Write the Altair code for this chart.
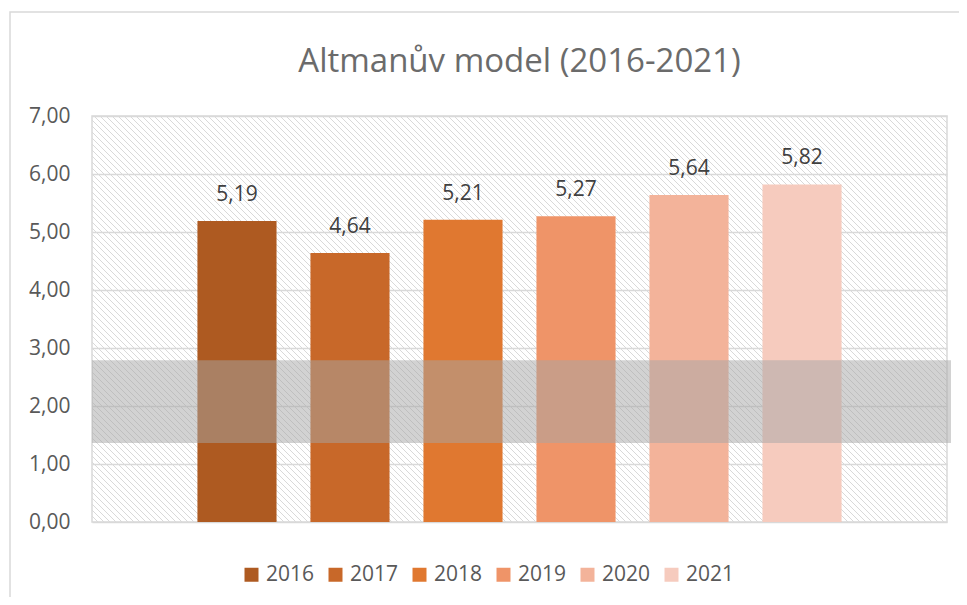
import altair as alt
import pandas as pd

years = ["2016", "2017", "2018", "2019", "2020", "2021"]
values = [5.19, 4.64, 5.21, 5.27, 5.64, 5.82]
colors = ["#AE5A21", "#C86829", "#E07830", "#EF9468", "#F3B39A", "#F6CBBE"]
y_ticks = [0, 1, 2, 3, 4, 5, 6, 7]
grey_zone = [1.36, 2.79]
title_text = "Altmanův model (2016-2021)"

W, H = 855, 406
FONT = "Open Sans"

df = pd.DataFrame({"cat": ["Altman"] * len(years), "year": years, "value": values})
zone = pd.DataFrame({"lo": [grey_zone[0]], "hi": [grey_zone[1]]})

yscale = alt.Scale(domain=[0, 7], nice=False)
xscale = alt.Scale(paddingInner=0, paddingOuter=0.1305)
xoff = alt.Scale(paddingInner=0.3, paddingOuter=0.15)

# decorative diagonal hatch of the plot background
hatch = (
    alt.Chart(alt.sequence(0, 215, 1, as_="k"))
    .transform_calculate(x0="datum.k * 6 - 406", x1="datum.k * 6")
    .mark_rule(color="#d9d9d9", strokeWidth=1, clip=True)
    .encode(
        x=alt.X("x0:Q", axis=None, scale=alt.Scale(domain=[0, W], nice=False, zero=False)),
        x2="x1:Q",
        y=alt.value(0),
        y2=alt.value(H),
    )
)

bars = (
    alt.Chart(df)
    .mark_bar()
    .encode(
        x=alt.X("cat:N", axis=None, scale=xscale),
        xOffset=alt.XOffset("year:N", scale=xoff, sort=years),
        y=alt.Y(
            "value:Q",
            scale=yscale,
            title=None,
            axis=alt.Axis(
                values=y_ticks,
                labelExpr="replace(format(datum.value, '.2f'), '.', ',')",
                grid=True,
                gridColor="#d9d9d9",
                gridWidth=1.5,
                domain=False,
                ticks=False,
                labelFontSize=21,
                labelFont=FONT,
                labelColor="#595959",
                labelPadding=22,
            ),
        ),
        color=alt.Color(
            "year:N",
            scale=alt.Scale(domain=years, range=colors),
            legend=alt.Legend(
                title=None,
                orient="none",
                direction="horizontal",
                columns=6,
                legendX=149,
                legendY=448,
                symbolType="square",
                symbolSize=196,
                symbolStrokeWidth=0,
                labelFontSize=21,
                labelFont=FONT,
                labelColor="#595959",
                labelOffset=4,
                columnPadding=10,
            ),
        ),
    )
)

labels = (
    alt.Chart(df)
    .transform_calculate(label="replace(format(datum.value, '.2f'), '.', ',')")
    .mark_text(fontSize=21, font=FONT, color="#404040", baseline="alphabetic", dy=-20)
    .encode(
        x=alt.X("cat:N", axis=None, scale=xscale),
        xOffset=alt.XOffset("year:N", scale=xoff, sort=years),
        y=alt.Y("value:Q", scale=yscale),
        text="label:N",
    )
)

band = (
    alt.Chart(zone)
    .mark_rect(color="#a5a5a5", opacity=0.5)
    .encode(
        y=alt.Y("lo:Q", scale=yscale),
        y2="hi:Q",
        x=alt.value(0),
        x2=alt.value(W + 4),
    )
)

frame = (
    alt.Chart(zone)
    .mark_rect(fill=None, stroke="#d9d9d9", strokeWidth=1.5)
    .encode(
        x=alt.value(-82),
        x2=alt.value(W + 13),
        y=alt.value(-104),
        y2=alt.value(H + 120),
    )
)

title = (
    alt.Chart(zone)
    .mark_text(
        text=title_text,
        fontSize=33,
        font=FONT,
        color="#6b6b6b",
        align="center",
        baseline="alphabetic",
    )
    .encode(x=alt.value(W / 2), y=alt.value(-44))
)

inner = alt.layer(bars, band, labels, frame, title)

chart = (
    alt.layer(hatch, inner)
    .resolve_scale(x="independent")
    .properties(
        width=W,
        height=H,
        autosize=alt.AutoSizeParams(type="none"),
        padding={"left": 84, "top": 108, "right": 12, "bottom": 75},
    )
    .configure_view(stroke="#d9d9d9", strokeWidth=1.5)
)

chart.save("out.html", embed_options={"renderer": "svg", "actions": False})
